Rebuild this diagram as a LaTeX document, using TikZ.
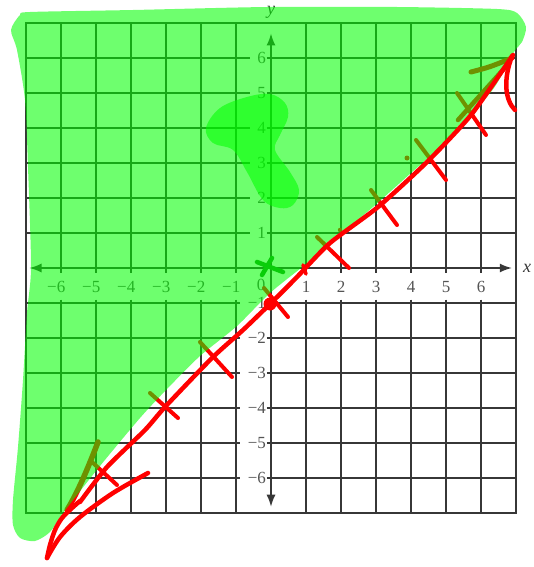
\documentclass[tikz,border=0pt]{standalone}
\usepackage{fontspec}
\setmainfont{Liberation Serif}
\usetikzlibrary{arrows.meta}
\definecolor{gridc}{RGB}{55,55,55}
\definecolor{labc}{RGB}{85,85,85}
\definecolor{hl}{RGB}{0,255,0}
\definecolor{pen}{RGB}{255,0,0}
\definecolor{xgreen}{RGB}{10,205,10}
\tikzset{
  gridline/.style={draw=gridc, line width=1.3pt},
  axisline/.style={draw=gridc, line width=1.5pt, {Latex[length=12pt,width=9pt]}-{Latex[length=12pt,width=9pt]}},
  numlab/.style={text=labc, font=\fontsize{17}{20}\selectfont, inner sep=0pt},
  axlab/.style={text=gridc, font=\fontsize{18}{20}\selectfont\itshape, inner sep=0pt},
  redpen/.style={draw=pen, line width=4.5pt, line cap=round, line join=round},
  tickpen/.style={draw=pen, line width=4pt, line cap=round},
  hlfill/.style={fill=hl, fill opacity=0.57, draw=none},
}
\begin{document}
\begin{tikzpicture}[x=1pt,y=-1pt]
\useasboundingbox (0,0) rectangle (534,567);
\fill[white] (0,0) rectangle (534,567);
% ---------- grid, axes, labels ----------
\begin{scope}[shift={(271,268)},x=35pt,y=35pt]
  \draw[gridline] (-7,-7) rectangle (7,7);
  \foreach \i in {-6,...,-1,1,2,...,6}{
    \draw[gridline] (\i,7) -- (\i,-0.15) (\i,-0.9) -- (\i,-7);
  }
  \foreach \j in {1,...,6}{
    \draw[gridline] (-7,\j) -- (-0.6,\j) (-0.12,\j) -- (7,\j);
    \draw[gridline] (-7,-\j) -- (-0.9,-\j) (-0.12,-\j) -- (7,-\j);
  }
  \draw[axisline] (-6.9,0) -- (6.88,0);
  \draw[axisline] (0,-6.82) -- (0,6.7);
  \foreach \i in {1,...,6}{
    \node[numlab] (xp\i) at (\i,-0.54) {\i};
    \node[numlab] (xn\i) at (-\i,-0.54) {\llap{−}\i};
    \node[numlab,anchor=east] (yp\i) at (-0.14,\i) {\i};
    \node[numlab,anchor=east] (yn\i) at (-0.14,-\i) {−\i};
  }
  \node[numlab] (zero) at (-0.28,-0.48) {0};
  \node[axlab] (xname) at (7.32,0) {x};
  \node[axlab] (yname) at (0,7.3) {y};
\end{scope}
% ---------- red marks that lie under the highlight ----------
\foreach \a/\b/\c/\d in {92/462/117/485, 150/393/178/418, 200/342/232/377,
    264/288/288/317, 317/237/349/268, 371/190/397/225, 416/140/446/180, 457/93/486/135}{
  \draw[tickpen] (\a,\b) -- (\c,\d);
}
\draw[redpen,line width=5pt] (471,72) .. controls (490,67) .. (512,58);
\draw[redpen,line width=4.5pt] (510,62) -- (458,120);
\draw[redpen,line width=5.5pt] (98,442) .. controls (88,468) and (78,492) .. (67,510);
\fill[pen] (407,158) circle (2.5pt);
\fill[pen] (340,230) circle (2.2pt);
% ---------- green highlight ----------
\fill[hlfill] plot[smooth cycle, tension=0.45] coordinates {
  (20,15) (30,12) (133,10) (267,7) (397,7) (497,9) (517,13) (526,27) (522,42)
  (514,52) (494,88) (464,122) (437,150) (411,173) (373,207) (350,226) (330,240) (307,263)
  (270,293) (237,326) (200,356) (167,389) (140,418) (100,466) (63,513) (50,532)
  (35,541) (20,538) (13,525) (13,500) (18,447) (23,380) (27,313) (31,267)
  (28,167) (25,100) (17,50) (11,30)};
\fill[hlfill] plot[smooth cycle, tension=0.6] coordinates {
  (247,97) (270,94) (285,103) (288,117) (280,135) (275,150) (290,172) (299,190)
  (293,205) (280,208) (263,200) (247,172) (233,150) (213,143) (206,128) (220,108)};
% ---------- green cross ----------
\draw[draw=xgreen,line width=4.5pt,line cap=round] (257,262) -- (283,272) (272,258) -- (262,275);
% ---------- red strokes on top ----------
\draw[redpen] plot[smooth, tension=0.4] coordinates {
  (80,502) (107,467) (145,430) (165,407) (212,358) (243,330) (271,303) (297,277)
  (330,243) (378,207) (427,162) (471,115) (513,55)};
\draw[redpen] plot[smooth, tension=0.5] coordinates {
  (148,473) (113,493) (80,517) (60,537) (47,558)};
\draw[redpen] plot[smooth, tension=0.5] coordinates {
  (47,558) (50,545) (55,530) (62,518) (72,508) (80,501)};
\draw[redpen] (512,56) .. controls (503,80) and (505,100) .. (515,110);
\fill[pen] (270,304) circle (6.5pt);
\draw[tickpen,line width=3.5pt] (303,265) -- (306,274);
\end{tikzpicture}
\end{document}
